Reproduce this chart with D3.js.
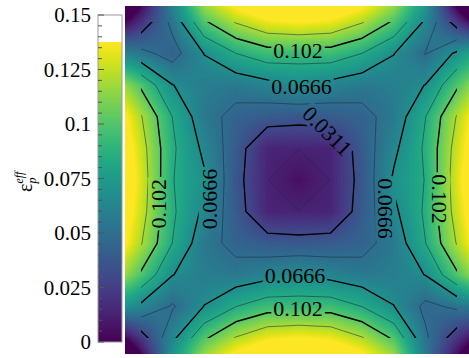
<!DOCTYPE html>
<html>
<head>
<meta charset="utf-8">
<script src="https://cdn.jsdelivr.net/npm/d3@7"></script>
<style>
  body { margin: 0; background: #fff; }
  svg { display: block; }
</style>
</head>
<body>
<svg id="chart" width="469" height="358"></svg>
<script>
// effective plastic strain at the 11 x 11 cell centres, top row first
const row0  = [0.019, 0.054, 0.0994, 0.121, 0.134, 0.138, 0.134, 0.121, 0.0994, 0.0634, 0.022];
const row1  = [0.054, 0.042, 0.067, 0.084, 0.094, 0.093, 0.094, 0.084, 0.067, 0.048, 0.070];
const row2  = [0.0994, 0.067, 0.058, 0.0555, 0.061, 0.0665, 0.061, 0.0555, 0.058, 0.067, 0.0994];
const row3  = [0.121, 0.084, 0.0555, 0.0435, 0.0392, 0.0372, 0.0392, 0.0435, 0.0555, 0.084, 0.121];
const row4  = [0.127, 0.087, 0.063, 0.0392, 0.0139, 0.0136, 0.0139, 0.0392, 0.063, 0.087, 0.127];
const row5  = [0.13, 0.085, 0.069, 0.037, 0.0136, 0.005, 0.0136, 0.037, 0.069, 0.085, 0.13];
const row6  = [0.127, 0.087, 0.063, 0.0392, 0.0139, 0.0136, 0.0139, 0.0392, 0.063, 0.087, 0.127];
const row7  = [0.121, 0.084, 0.0555, 0.0435, 0.0392, 0.0372, 0.0392, 0.0435, 0.0555, 0.084, 0.121];
const row8  = [0.0994, 0.067, 0.058, 0.0555, 0.061, 0.0665, 0.061, 0.0555, 0.058, 0.067, 0.0994];
const row9  = [0.0625, 0.047, 0.067, 0.084, 0.094, 0.093, 0.094, 0.084, 0.067, 0.0447, 0.052];
const row10 = [0.022, 0.0625, 0.0994, 0.121, 0.134, 0.138, 0.134, 0.121, 0.0994, 0.052, 0.021];
const field = [row0, row1, row2, row3, row4, row5, row6, row7, row8, row9, row10];

const lineLevels  = [0.0133, 0.0311, 0.0488, 0.0666, 0.0843, 0.102, 0.1198];
const majorLevels = [0.0311, 0.0666, 0.102];
const floodMax = 0.1376;
const cbTicks = [0, 0.025, 0.05, 0.075, 0.1, 0.125, 0.15];
const cbTickLabels = ["0", "0.025", "0.05", "0.075", "0.1", "0.125", "0.15"];

// contour labels: level, position in cell units, angle
const labelLevels = [0.102, 0.0666, 0.0311, 0.102, 0.0666, 0.0666, 0.102, 0.0666, 0.102];
const labelGX     = [4.97, 5.08, 5.9, 0.55, 2.15, 7.75, 9.45, 4.87, 4.97];
const labelGY     = [0.9, 2.05, 3.45, 5.75, 5.6, 5.9, 5.6, 8.0, 9.05];
const labelAngle  = [0, 0, 45, -90, -90, 90, 90, 0, 0];

const W = 469, H = 358, n = 11;
const serif = '"Liberation Serif", "Times New Roman", serif';
const svg = d3.select("#chart");

const x = d3.scaleLinear().domain([-0.5, n - 0.5]).range([125.2, 472.8]);
const y = d3.scaleLinear().domain([-0.5, n - 0.5]).range([6.2, 353.8]);
const color = d3.scaleSequential(d3.interpolateViridis).domain([0, floodMax]).clamp(true);

// bilinear value, extrapolated in the outer half cells
function valueAt(gx, gy) {
  const i = Math.max(0, Math.min(n - 2, Math.floor(gx)));
  const j = Math.max(0, Math.min(n - 2, Math.floor(gy)));
  const tx = gx - i, ty = gy - j;
  const a = field[j][i], b = field[j][i + 1], c = field[j + 1][i], d = field[j + 1][i + 1];
  return (a * (1 - tx) + b * tx) * (1 - ty) + (c * (1 - tx) + d * tx) * ty;
}

// flood
const px0 = Math.round(x(-0.5)), py0 = Math.round(y(-0.5)), py1 = Math.round(y(n - 0.5));
const cw = W - px0, ch = py1 - py0;
const canvas = document.createElement("canvas");
canvas.width = cw; canvas.height = ch;
const ctx = canvas.getContext("2d");
const img = ctx.createImageData(cw, ch);
for (let r = 0; r < ch; r++) {
  const gy = y.invert(py0 + r + 0.5);
  for (let c = 0; c < cw; c++) {
    const col = d3.rgb(color(valueAt(x.invert(px0 + c + 0.5), gy)));
    const k = (r * cw + c) * 4;
    img.data[k] = col.r; img.data[k + 1] = col.g; img.data[k + 2] = col.b; img.data[k + 3] = 255;
  }
}
ctx.putImageData(img, 0, 0);
svg.append("image")
  .attr("x", px0).attr("y", py0)
  .attr("width", cw).attr("height", ch)
  .attr("href", canvas.toDataURL());

// contour lines
const defs = svg.append("defs");
defs.append("clipPath").attr("id", "nodeClip")
  .append("rect")
  .attr("x", x(0)).attr("y", y(0))
  .attr("width", x(n - 1) - x(0)).attr("height", y(n - 1) - y(0));

const contours = d3.contours().size([n, n]).thresholds(lineLevels)(field.flat());
const path = d3.geoPath(d3.geoTransform({
  point(px, py) { this.stream.point(x(px - 0.5), y(py - 0.5)); }
}));

const fmt = d3.format(".3");
const labelData = labelLevels.map((v, i) => ({
  text: fmt(v), cx: x(labelGX[i]), cy: y(labelGY[i]), angle: labelAngle[i]
}));

const mask = defs.append("mask").attr("id", "labelMask");
mask.append("rect").attr("width", W).attr("height", H).attr("fill", "#fff");

const lines = svg.append("g")
  .attr("clip-path", "url(#nodeClip)")
  .append("g")
  .attr("mask", "url(#labelMask)");

lines.selectAll("path")
  .data(contours)
  .join("path")
  .attr("d", path)
  .attr("fill", "none")
  .attr("stroke", d => majorLevels.includes(d.value) ? "#000" : "rgba(30,40,60,0.6)")
  .attr("stroke-width", d => majorLevels.includes(d.value) ? 1.4 : 0.9)
  .attr("stroke-linejoin", "round");

const lbl = svg.append("g").selectAll("text")
  .data(labelData)
  .join("text")
  .attr("transform", d => `translate(${d.cx},${d.cy}) rotate(${d.angle})`)
  .attr("text-anchor", "middle")
  .attr("dy", "0.35em")
  .style("font-family", serif)
  .attr("font-size", 22)
  .attr("fill", "#000")
  .text(d => d.text);

lbl.each(function(d) {
  const b = this.getBBox();
  mask.append("rect")
    .attr("transform", `translate(${d.cx},${d.cy}) rotate(${d.angle})`)
    .attr("x", b.x - 2).attr("y", b.y + 2)
    .attr("width", b.width + 4).attr("height", b.height - 4)
    .attr("fill", "#000");
});

// colour bar
const cb = d3.scaleLinear().domain([0, 0.15]).range([342, 15]);
const cbX = 98, cbW = 24;
const grad = defs.append("linearGradient").attr("id", "cbGrad")
  .attr("x1", 0).attr("y1", 1).attr("x2", 0).attr("y2", 0);
d3.range(0, 21).forEach(k => {
  const v = floodMax * k / 20;
  grad.append("stop").attr("offset", v / 0.15).attr("stop-color", color(v));
});
grad.append("stop").attr("offset", floodMax / 0.15).attr("stop-color", "#fff");
grad.append("stop").attr("offset", 1).attr("stop-color", "#fff");

svg.append("rect")
  .attr("x", cbX).attr("y", cb(0.15))
  .attr("width", cbW).attr("height", cb(0) - cb(0.15))
  .attr("fill", "url(#cbGrad)")
  .attr("stroke", "#9a9a9a").attr("stroke-width", 1);

svg.append("g").selectAll("line")
  .data(d3.range(0, 31).map(k => k * 0.005))
  .join("line")
  .attr("x1", cbX).attr("x2", (d, i) => cbX + (i % 5 === 0 ? 6 : 4))
  .attr("y1", d => cb(d)).attr("y2", d => cb(d))
  .attr("stroke", "#555").attr("stroke-width", 1);

svg.append("g").selectAll("text")
  .data(cbTicks)
  .join("text")
  .attr("x", 91).attr("y", d => cb(d))
  .attr("dy", "0.35em")
  .attr("text-anchor", "end")
  .style("font-family", serif)
  .attr("font-size", 21)
  .text((d, i) => cbTickLabels[i]);

const title = svg.append("text")
  .attr("transform", "translate(32,192) rotate(-90)")
  .style("font-family", serif)
  .attr("font-size", 20);
title.append("tspan").text("ε");
title.append("tspan").attr("font-size", 12).attr("font-style", "italic").attr("dy", 4).text("p");
title.append("tspan").attr("font-size", 12).attr("font-style", "italic").attr("dx", -6).attr("dy", -13).text("eff");
</script>
</body>
</html>
